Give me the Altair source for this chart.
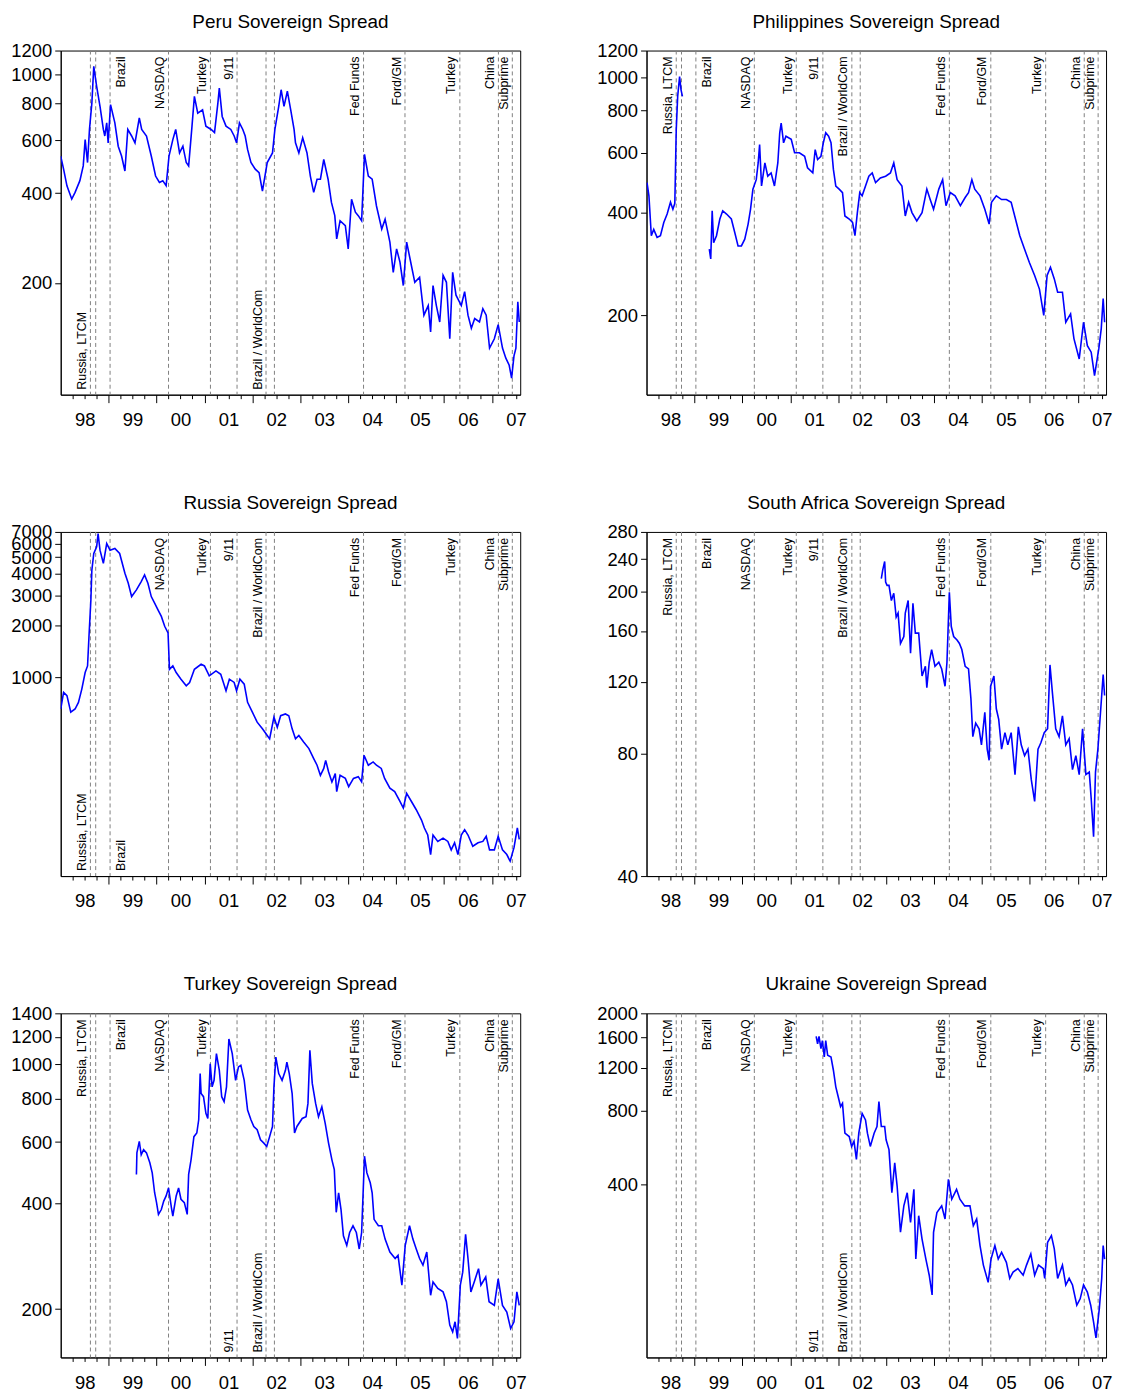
import json
import altair as alt
import pandas as pd

FONT = "Liberation Sans"
X_START, X_END = 1998.0, 2007.59
PLOT_W, PLOT_H = 462, 346

YEAR_LABELS = ["98", "99", "00", "01", "02", "03", "04", "05", "06", "07"]
QUARTER_TICKS = [1998.25 + 0.25 * i for i in range(38)]

EVENT_T = [1998.62, 1998.73, 1999.03, 2000.25, 2001.125, 2001.68, 2002.285,
           2002.46, 2004.32, 2005.185, 2006.33, 2007.135, 2007.425]
LABEL_TEXT = ["Russia,  LTCM", "Brazil", "NASDAQ", "Turkey", "9/11  ",
              "Brazil / WorldCom", "Fed  Funds", "Ford/GM", "Turkey", "China", "Subprime"]
LABEL_T = [1998.62, 1999.03, 2000.25, 2001.125, 2001.68, 2002.285,
           2004.32, 2005.185, 2006.33, 2007.135, 2007.425]
LABEL_SIDE = ["left", "right", "left", "left", "left", "left",
              "left", "left", "left", "left", "left"]

# ---------------- series (decimal year, spread in bp) ----------------
T_PERU = [1998.00, 1998.06, 1998.13, 1998.23, 1998.30, 1998.40, 1998.47, 1998.51, 1998.56, 1998.60,
          1998.65, 1998.69, 1998.75, 1998.82, 1998.89, 1998.92, 1998.96, 1998.99, 1999.04, 1999.13,
          1999.20, 1999.27, 1999.34, 1999.40, 1999.48, 1999.55, 1999.64, 1999.69, 1999.79, 1999.89,
          1999.98, 2000.06, 2000.13, 2000.20, 2000.26, 2000.34, 2000.40, 2000.48, 2000.55, 2000.62,
          2000.67, 2000.74, 2000.79, 2000.86, 2000.96, 2001.03, 2001.14, 2001.21, 2001.28, 2001.31,
          2001.37, 2001.45, 2001.55, 2001.62, 2001.67, 2001.73, 2001.80, 2001.85, 2001.90, 2001.97,
          2002.06, 2002.14, 2002.21, 2002.31, 2002.42, 2002.47, 2002.55, 2002.60, 2002.66, 2002.73,
          2002.80, 2002.87, 2002.90, 2002.97, 2003.05, 2003.14, 2003.21, 2003.28, 2003.35, 2003.42,
          2003.49, 2003.58, 2003.65, 2003.72, 2003.76, 2003.83, 2003.94, 2004.00, 2004.07, 2004.15,
          2004.21, 2004.28, 2004.34, 2004.42, 2004.50, 2004.59, 2004.70, 2004.77, 2004.87, 2004.94,
          2005.01, 2005.08, 2005.15, 2005.22, 2005.29, 2005.39, 2005.49, 2005.58, 2005.67, 2005.72,
          2005.77, 2005.84, 2005.91, 2005.98, 2006.05, 2006.12, 2006.18, 2006.25, 2006.36, 2006.43,
          2006.50, 2006.57, 2006.64, 2006.74, 2006.81, 2006.88, 2006.95, 2007.05, 2007.13, 2007.22,
          2007.29, 2007.36, 2007.41, 2007.46, 2007.50, 2007.54, 2007.57]
V_PERU = [532, 481, 423, 382, 402, 440, 493, 604, 506, 653,
          800, 1062, 910, 780, 653, 621, 687, 589, 791, 687,
          574, 532, 474, 653, 621, 589, 714, 653, 621, 532,
          456, 434, 440, 423, 532, 604, 653, 545, 574, 506,
          493, 670, 843, 741, 760, 670, 653, 637, 800, 899,
          722, 670, 653, 621, 589, 687, 653, 621, 560, 506,
          481, 468, 406, 506, 545, 653, 780, 887, 780, 877,
          760, 653, 589, 545, 612, 545, 456, 402, 445, 445,
          518, 445, 372, 336, 281, 323, 311, 260, 381, 345,
          336, 323, 539, 456, 445, 362, 303, 327, 274, 217,
          260, 235, 196, 274, 241, 201, 209, 156, 168, 137,
          196, 168, 148, 212, 201, 130, 217, 182, 168, 187,
          156, 141, 152, 148, 164, 156, 121, 130, 145, 121,
          112, 106, 96, 114, 121, 173, 148]

T_PHIL_A = [1998.01, 1998.05, 1998.10, 1998.15, 1998.22, 1998.29, 1998.36, 1998.43, 1998.50, 1998.55,
            1998.59, 1998.60, 1998.62, 1998.65, 1998.69, 1998.72, 1998.75]
V_PHIL_A = [491, 449, 343, 358, 339, 343, 375, 397, 430, 410,
            427, 501, 703, 880, 1006, 920, 880]
T_PHIL_B = [1999.31, 1999.34, 1999.37, 1999.40, 1999.46, 1999.53, 1999.59, 1999.67, 1999.77, 1999.84,
            1999.91, 1999.98, 2000.05, 2000.12, 2000.17, 2000.22, 2000.29, 2000.33, 2000.36, 2000.40,
            2000.47, 2000.53, 2000.60, 2000.67, 2000.74, 2000.78, 2000.81, 2000.86, 2000.91, 2001.02,
            2001.09, 2001.19, 2001.30, 2001.36, 2001.47, 2001.52, 2001.57, 2001.64, 2001.69, 2001.74,
            2001.80, 2001.85, 2001.90, 2001.95, 2002.02, 2002.09, 2002.14, 2002.23, 2002.30, 2002.35,
            2002.40, 2002.45, 2002.50, 2002.57, 2002.64, 2002.71, 2002.78, 2002.88, 2002.99, 2003.09,
            2003.16, 2003.23, 2003.33, 2003.40, 2003.47, 2003.54, 2003.64, 2003.75, 2003.85, 2003.92,
            2003.99, 2004.10, 2004.18, 2004.25, 2004.34, 2004.44, 2004.55, 2004.65, 2004.72, 2004.79,
            2004.85, 2004.96, 2005.06, 2005.15, 2005.20, 2005.30, 2005.41, 2005.51, 2005.61, 2005.70,
            2005.79, 2005.89, 2005.99, 2006.10, 2006.20, 2006.29, 2006.36, 2006.43, 2006.51, 2006.58,
            2006.68, 2006.75, 2006.85, 2006.92, 2007.03, 2007.12, 2007.20, 2007.28, 2007.35, 2007.44,
            2007.49, 2007.53, 2007.56]
V_PHIL_B = [313, 293, 406, 327, 343, 384, 406, 397, 384, 351,
            320, 320, 335, 371, 410, 470, 501, 561, 635, 480,
            561, 513, 524, 480, 561, 688, 735, 643, 672, 658,
            601, 601, 587, 543, 525, 614, 574, 587, 643, 688,
            672, 643, 537, 480, 470, 459, 392, 384, 375, 343,
            401, 459, 449, 480, 513, 524, 491, 507, 513, 524,
            561, 501, 480, 392, 430, 401, 379, 401, 470, 438,
            410, 470, 501, 420, 459, 449, 420, 444, 459, 501,
            470, 449, 410, 371, 430, 449, 438, 438, 430, 384,
            343, 313, 286, 262, 239, 200, 262, 277, 256, 234,
            234, 191, 202, 171, 149, 191, 163, 156, 133, 160,
            183, 224, 191]

T_RUS = [1998.00, 1998.06, 1998.13, 1998.21, 1998.30, 1998.37, 1998.44, 1998.51, 1998.56, 1998.59,
         1998.63, 1998.65, 1998.69, 1998.75, 1998.78, 1998.82, 1998.89, 1998.96, 1999.03, 1999.13,
         1999.23, 1999.34, 1999.41, 1999.48, 1999.58, 1999.68, 1999.75, 1999.82, 1999.89, 1999.96,
         2000.03, 2000.10, 2000.17, 2000.24, 2000.27, 2000.34, 2000.41, 2000.51, 2000.62, 2000.69,
         2000.79, 2000.93, 2001.00, 2001.10, 2001.24, 2001.34, 2001.45, 2001.52, 2001.62, 2001.67,
         2001.74, 2001.83, 2001.90, 2002.00, 2002.10, 2002.21, 2002.31, 2002.36, 2002.45, 2002.52,
         2002.59, 2002.69, 2002.76, 2002.83, 2002.90, 2002.97, 2003.07, 2003.18, 2003.28, 2003.35,
         2003.42, 2003.49, 2003.53, 2003.59, 2003.66, 2003.73, 2003.76, 2003.83, 2003.94, 2004.01,
         2004.11, 2004.21, 2004.28, 2004.33, 2004.42, 2004.52, 2004.59, 2004.69, 2004.76, 2004.87,
         2004.97, 2005.08, 2005.15, 2005.22, 2005.32, 2005.42, 2005.53, 2005.59, 2005.66, 2005.72,
         2005.77, 2005.87, 2005.98, 2006.08, 2006.15, 2006.22, 2006.29, 2006.36, 2006.43, 2006.50,
         2006.60, 2006.71, 2006.81, 2006.88, 2006.95, 2007.05, 2007.13, 2007.22, 2007.31, 2007.38,
         2007.46, 2007.53, 2007.57]
V_RUS = [657, 820, 785, 630, 657, 718, 857, 1069, 1168, 1738,
         2826, 4206, 5248, 5731, 6839, 5486, 4597, 5998, 5486, 5610,
         5248, 4029, 3527, 2951, 3226, 3608, 3939, 3527, 2951, 2703,
         2474, 2264, 1984, 1817, 1117, 1168, 1069, 979, 896, 937,
         1117, 1194, 1168, 1023, 1093, 1045, 838, 979, 937, 838,
         979, 916, 718, 630, 551, 504, 461, 441, 589, 515,
         601, 615, 601, 504, 441, 461, 423, 387, 339, 310,
         271, 297, 331, 284, 248, 277, 218, 271, 260, 233,
         260, 266, 248, 354, 310, 324, 310, 297, 260, 228,
         218, 191, 175, 213, 191, 171, 149, 134, 122, 94,
         122, 112, 117, 112, 100, 110, 94, 122, 131, 122,
         105, 110, 112, 120, 100, 100, 120, 100, 94, 86,
         103, 134, 115]

T_ZAF = [2002.90, 2002.93, 2002.97, 2002.99, 2003.02, 2003.06, 2003.11, 2003.16, 2003.21, 2003.25,
         2003.30, 2003.37, 2003.40, 2003.46, 2003.51, 2003.56, 2003.61, 2003.68, 2003.75, 2003.82,
         2003.85, 2003.90, 2003.95, 2004.02, 2004.10, 2004.16, 2004.23, 2004.27, 2004.32, 2004.36,
         2004.41, 2004.48, 2004.53, 2004.58, 2004.65, 2004.72, 2004.77, 2004.81, 2004.87, 2004.94,
         2004.99, 2005.06, 2005.11, 2005.15, 2005.18, 2005.25, 2005.30, 2005.35, 2005.41, 2005.48,
         2005.54, 2005.61, 2005.69, 2005.76, 2005.82, 2005.89, 2005.96, 2006.03, 2006.10, 2006.17,
         2006.23, 2006.30, 2006.37, 2006.42, 2006.47, 2006.54, 2006.61, 2006.68, 2006.75, 2006.82,
         2006.89, 2006.96, 2007.03, 2007.10, 2007.17, 2007.24, 2007.28, 2007.33, 2007.37, 2007.42,
         2007.48, 2007.53, 2007.56]
V_ZAF = [215, 226, 237, 211, 207, 207, 190, 198, 173, 177,
         149, 155, 177, 190, 141, 187, 158, 158, 124, 131,
         116, 134, 144, 131, 134, 129, 117, 134, 199, 164,
         155, 152, 149, 144, 131, 129, 109, 88, 95, 92,
         84, 101, 82, 77, 117, 124, 103, 97, 82, 90,
         84, 90, 71, 93, 84, 79, 82, 69, 61, 82,
         85, 90, 92, 132, 113, 92, 88, 99, 84, 87,
         73, 79, 71, 92, 71, 72, 62, 50, 72, 82,
         103, 125, 111]

T_TUR = [1999.58, 1999.59, 1999.64, 1999.68, 1999.73, 1999.79, 1999.86, 1999.91, 1999.96, 2000.00,
         2000.04, 2000.10, 2000.15, 2000.20, 2000.25, 2000.31, 2000.34, 2000.41, 2000.46, 2000.51,
         2000.58, 2000.64, 2000.67, 2000.72, 2000.78, 2000.84, 2000.88, 2000.91, 2000.93, 2000.98,
         2001.03, 2001.07, 2001.12, 2001.16, 2001.20, 2001.25, 2001.31, 2001.36, 2001.41, 2001.46,
         2001.51, 2001.58, 2001.65, 2001.71, 2001.76, 2001.83, 2001.90, 2001.97, 2002.03, 2002.10,
         2002.17, 2002.24, 2002.30, 2002.36, 2002.42, 2002.45, 2002.49, 2002.55, 2002.62, 2002.69,
         2002.72, 2002.77, 2002.83, 2002.88, 2002.93, 2003.04, 2003.12, 2003.16, 2003.20, 2003.25,
         2003.32, 2003.38, 2003.45, 2003.52, 2003.59, 2003.66, 2003.71, 2003.75, 2003.80, 2003.85,
         2003.90, 2003.97, 2004.03, 2004.10, 2004.17, 2004.23, 2004.28, 2004.34, 2004.39, 2004.46,
         2004.50, 2004.54, 2004.63, 2004.70, 2004.77, 2004.87, 2004.98, 2005.04, 2005.12, 2005.19,
         2005.28, 2005.35, 2005.42, 2005.49, 2005.56, 2005.64, 2005.72, 2005.77, 2005.87, 2005.98,
         2006.05, 2006.12, 2006.18, 2006.23, 2006.28, 2006.34, 2006.39, 2006.45, 2006.50, 2006.56,
         2006.63, 2006.72, 2006.77, 2006.87, 2006.94, 2007.05, 2007.13, 2007.22, 2007.31, 2007.39,
         2007.46, 2007.52, 2007.57]
V_TUR = [485, 559, 603, 552, 571, 559, 524, 490, 430, 403,
         373, 385, 407, 421, 444, 390, 369, 421, 444, 412,
         403, 373, 485, 534, 622, 637, 695, 942, 826, 809,
         725, 701, 1004, 863, 901, 1074, 962, 809, 783, 863,
         1183, 1074, 901, 984, 995, 901, 741, 695, 665, 651,
         609, 596, 583, 622, 665, 863, 1050, 942, 901, 962,
         1016, 942, 826, 637, 665, 701, 709, 774, 1097, 883,
         774, 709, 757, 679, 596, 534, 501, 378, 430, 385,
         324, 304, 331, 346, 331, 297, 331, 547, 490, 459,
         430, 361, 346, 346, 317, 291, 279, 285, 234, 304,
         346, 317, 297, 279, 267, 291, 219, 239, 229, 224,
         210, 180, 172, 184, 165, 234, 255, 327, 279, 224,
         239, 261, 234, 247, 210, 205, 244, 205, 196, 176,
         184, 224, 205]

T_UKR = [2001.54, 2001.57, 2001.60, 2001.64, 2001.67, 2001.71, 2001.74, 2001.78, 2001.85, 2001.90,
         2001.95, 2002.00, 2002.05, 2002.09, 2002.14, 2002.23, 2002.28, 2002.33, 2002.38, 2002.43,
         2002.50, 2002.57, 2002.61, 2002.67, 2002.75, 2002.81, 2002.85, 2002.90, 2002.97, 2003.00,
         2003.06, 2003.12, 2003.18, 2003.23, 2003.30, 2003.37, 2003.44, 2003.51, 2003.58, 2003.62,
         2003.68, 2003.75, 2003.83, 2003.90, 2003.96, 2003.99, 2004.06, 2004.16, 2004.23, 2004.30,
         2004.37, 2004.47, 2004.54, 2004.64, 2004.75, 2004.82, 2004.89, 2004.96, 2005.03, 2005.13,
         2005.19, 2005.27, 2005.34, 2005.41, 2005.51, 2005.58, 2005.65, 2005.75, 2005.86, 2005.93,
         2006.02, 2006.10, 2006.18, 2006.28, 2006.31, 2006.37, 2006.45, 2006.51, 2006.58, 2006.68,
         2006.75, 2006.82, 2006.89, 2006.98, 2007.05, 2007.12, 2007.20, 2007.27, 2007.33, 2007.38,
         2007.45, 2007.50, 2007.53, 2007.56]
V_UKR = [1610, 1503, 1610, 1435, 1549, 1327, 1549, 1348, 1327, 1172,
         1003, 914, 832, 858, 649, 629, 573, 601, 507, 649,
         781, 735, 649, 573, 649, 691, 873, 691, 691, 610,
         556, 371, 491, 395, 256, 328, 371, 281, 383, 199,
         299, 240, 199, 171, 142, 256, 308, 328, 290, 421,
         349, 383, 349, 328, 328, 272, 290, 226, 188, 160,
         199, 226, 199, 212, 193, 166, 176, 182, 171, 188,
         209, 171, 188, 182, 166, 233, 248, 219, 166, 188,
         156, 166, 156, 129, 137, 156, 146, 129, 110, 95,
         125, 166, 226, 199]

LABEL_EXPR = ("datum.value % 1 == 0.5 ? " + json.dumps(YEAR_LABELS)
              + "[floor(datum.value) - 1998] : ''")


def panel(title, segments, ydomain, yticks, bottom_labels):
    rows = []
    for k, (ts, vs) in enumerate(segments):
        for t, v in zip(ts, vs):
            rows.append({"t": t, "v": v, "seg": k})
    line_df = pd.DataFrame(rows)
    ev_df = pd.DataFrame({"t": EVENT_T})
    lab_df = pd.DataFrame({"t": LABEL_T, "label": LABEL_TEXT, "side": LABEL_SIDE})
    lab_df["pos"] = ["bottom" if i in bottom_labels else "top" for i in range(len(LABEL_T))]

    xs = alt.Scale(domain=[X_START, X_END], nice=False, zero=False)
    ys = alt.Scale(type="log", domain=ydomain, nice=False)
    xaxis = alt.Axis(values=QUARTER_TICKS, title=None, labelExpr=LABEL_EXPR,
                     labelOverlap=False, labelFlush=False, grid=False,
                     tickSize={"condition": {"test": "datum.value % 1 == 0", "value": 8}, "value": 4},
                     labelPadding=12, labelFontSize=18.5, domain=True)
    yaxis = alt.Axis(values=yticks, title=None, format="d", tickSize=6, labelPadding=3,
                     labelFontSize=18.5, grid=False, labelOverlap=False, labelFlush=False,
                     minExtent=52, maxExtent=52)

    rules = alt.Chart(ev_df).mark_rule(color="#808080", strokeDash=[4, 3], strokeWidth=1).encode(
        x=alt.X("t:Q", scale=xs, axis=xaxis))

    layers = [rules]
    for pos in ["top", "bottom"]:
        for side in ["left", "right"]:
            sub = lab_df[(lab_df["pos"] == pos) & (lab_df["side"] == side)]
            if len(sub) == 0:
                continue
            layers.append(
                alt.Chart(sub).mark_text(
                    angle=270,
                    align="right" if pos == "top" else "left",
                    baseline="bottom" if side == "left" else "top",
                    dy=-1.5 if side == "left" else 5,
                    font=FONT, fontSize=12.5, color="black",
                ).encode(
                    x=alt.X("t:Q", scale=xs, axis=xaxis),
                    y=alt.value(6) if pos == "top" else alt.value(PLOT_H - 5),
                    text="label:N",
                )
            )

    line = alt.Chart(line_df).mark_line(color="#0000FF", strokeWidth=1.6, clip=True).encode(
        x=alt.X("t:Q", scale=xs, axis=xaxis),
        y=alt.Y("v:Q", scale=ys, axis=yaxis),
        detail="seg:N",
        order="t:Q",
    )
    layers.append(line)
    return alt.layer(*layers).properties(
        width=PLOT_W, height=PLOT_H,
        title=alt.TitleParams(title, fontSize=19, font=FONT, fontWeight="normal",
                              color="black", anchor="middle", offset=10, frame="group"),
    )


peru = panel("Peru Sovereign Spread", [(T_PERU, V_PERU)], [84.5, 1200],
             [200, 400, 600, 800, 1000, 1200], {0, 5})
phil = panel("Philippines Sovereign Spread", [(T_PHIL_A, V_PHIL_A), (T_PHIL_B, V_PHIL_B)],
             [117, 1200], [200, 400, 600, 800, 1000, 1200], set())
rus = panel("Russia Sovereign Spread", [(T_RUS, V_RUS)], [70.5, 7000],
            [1000, 2000, 3000, 4000, 5000, 6000, 7000], {0, 1})
zaf = panel("South Africa Sovereign Spread", [(T_ZAF, V_ZAF)], [40, 280],
            [40, 80, 120, 160, 200, 240, 280], set())
tur = panel("Turkey Sovereign Spread", [(T_TUR, V_TUR)], [145.5, 1400],
            [200, 400, 600, 800, 1000, 1200, 1400], {4, 5})
ukr = panel("Ukraine Sovereign Spread", [(T_UKR, V_UKR)], [79, 2000],
            [400, 800, 1200, 1600, 2000], {4, 5})

chart = alt.concat(
    peru, phil, rus, zaf, tur, ukr,
    columns=2, spacing={"row": 138, "column": 127}, bounds="flush",
).properties(
    padding={"left": 0, "top": 0, "right": 0, "bottom": 0},
    background="white",
).configure_view(
    stroke="black", strokeWidth=1
).configure_axis(
    labelFont=FONT, labelColor="black", tickColor="black", domainColor="black",
    domainWidth=1, tickWidth=1
).configure_title(
    font=FONT, color="black"
)

chart.save("out.html", embed_options={"renderer": "svg", "actions": False})
